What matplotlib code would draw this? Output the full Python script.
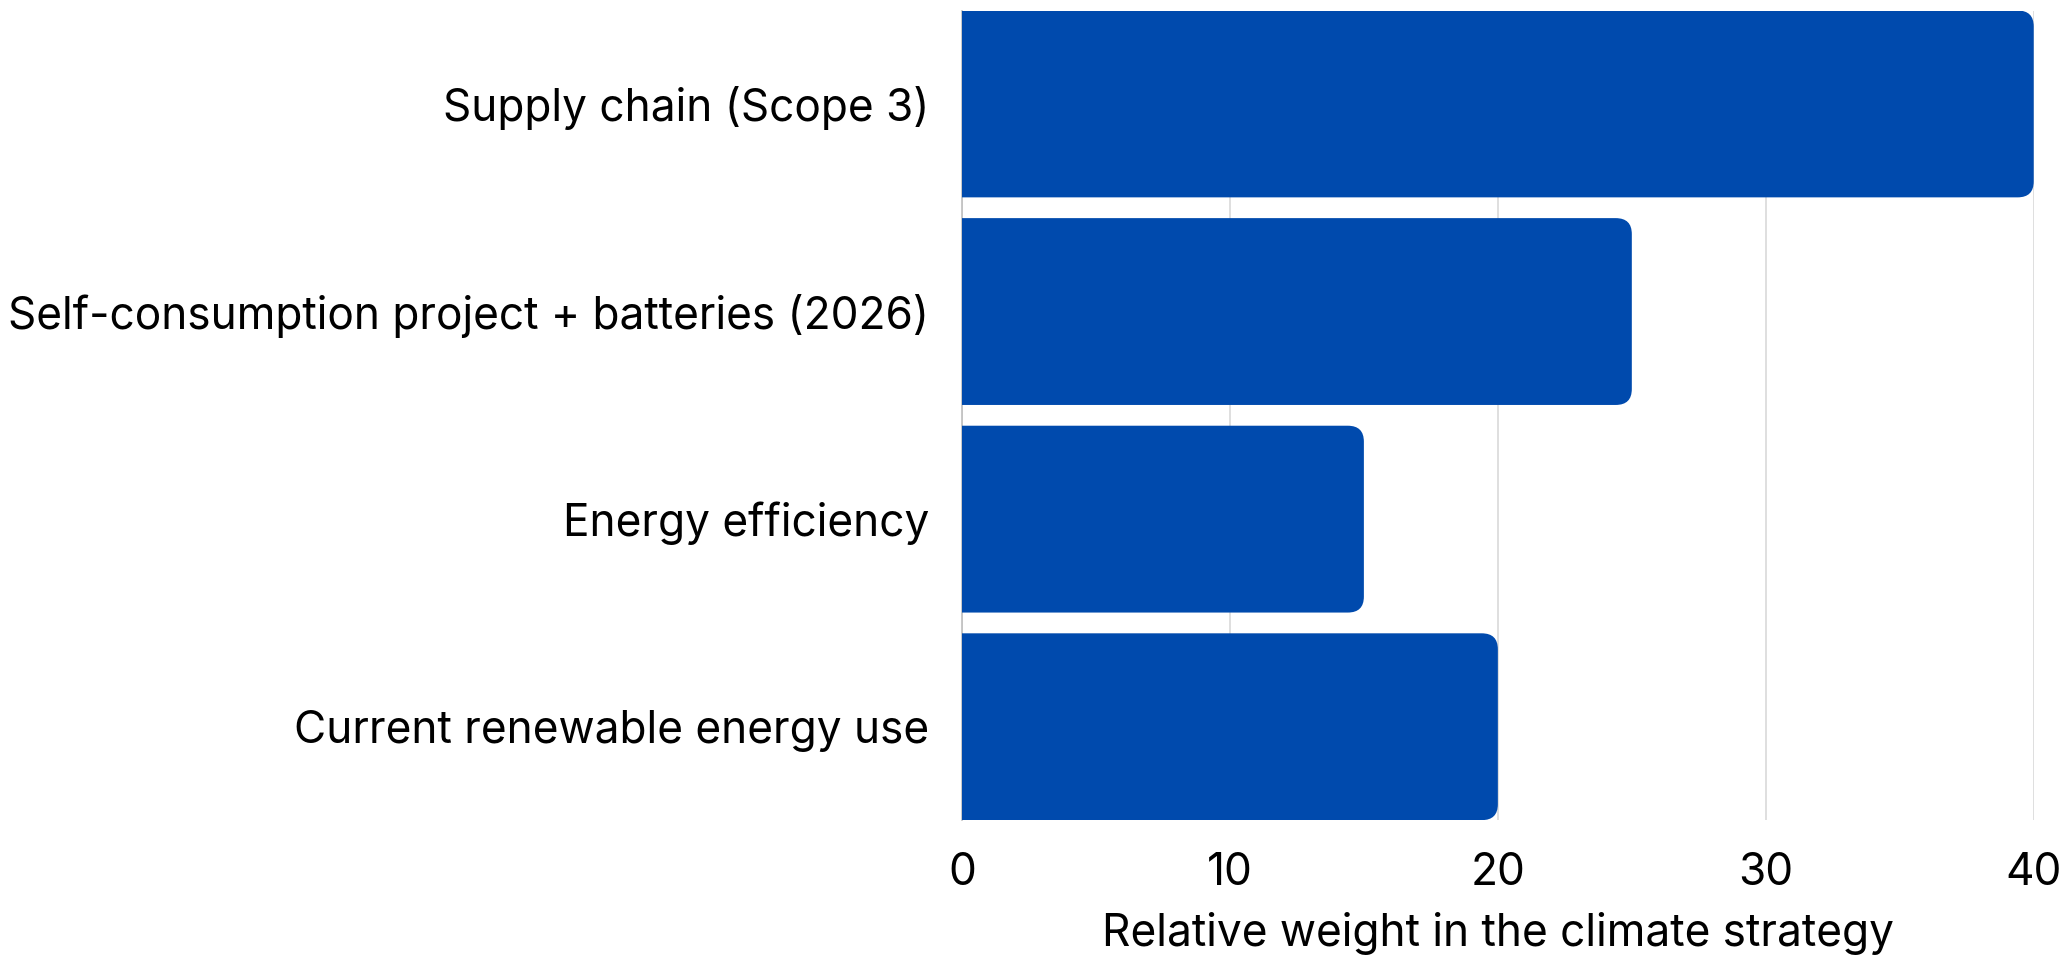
#! /usr/bin/env python3

"""Horizontal bar chart of climate strategy weights."""

import matplotlib
matplotlib.use('Agg')
import matplotlib.pyplot as plt
from matplotlib.patches import FancyBboxPatch

# Data (top to bottom)
categories = ['Supply chain (Scope 3)',
              'Self-consumption project + batteries (2026)',
              'Energy efficiency',
              'Current renewable energy use']
weights = [40, 25, 15, 20]
xticks = [0, 10, 20, 30, 40]

BAR_COLOR = '#004aad'
BAR_HEIGHT = 0.9


def make_plot():
    """Draw bars with rounded right ends."""
    plt.rcParams['font.family'] = ['Inter', 'DejaVu Sans']
    fig = plt.figure(figsize=(20.71, 9.57), dpi=100)
    ax = fig.add_axes([0.4645, 0.143, 0.5175, 0.846])

    ypos = list(range(len(categories)))
    radius = 0.6
    aspect = 0.128

    # Lay out bars with barh, then swap each for a rounded box whose
    # left end sits behind the axis (clipped), so only the right is round
    bars = ax.barh(ypos, weights, height=BAR_HEIGHT,
                   color=BAR_COLOR, zorder=3, linewidth=0)
    for rect in bars:
        x0, y0 = rect.get_x(), rect.get_y()
        w, h = rect.get_width(), rect.get_height()
        patch = FancyBboxPatch(
            (x0 - 3 * radius, y0), w + 3 * radius, h,
            boxstyle='round,pad=0,rounding_size=%g' % radius,
            mutation_aspect=aspect,
            facecolor=BAR_COLOR, edgecolor='none', zorder=3)
        ax.add_patch(patch)
        rect.set_visible(False)

    ax.set_xlim(0, 40)
    ax.set_ylim(len(categories) - 0.5 - (1 - BAR_HEIGHT) / 2,
                -0.5 + (1 - BAR_HEIGHT) / 2)

    ax.set_yticks(ypos)
    ax.set_yticklabels(categories)
    ax.set_xticks(xticks)
    ax.tick_params(axis='both', length=0, labelsize=31.8, colors='black')
    ax.tick_params(axis='y', pad=23.5)
    ax.tick_params(axis='x', pad=23)

    ax.grid(axis='x', color='#d9d9d9', linewidth=1.2, zorder=0)
    ax.set_axisbelow(True)
    for side in ['top', 'right', 'bottom']:
        ax.spines[side].set_visible(False)
    ax.spines['left'].set_color('#bfbfbf')
    ax.spines['left'].set_linewidth(1.2)

    ax.set_xlabel('Relative weight in the climate strategy', fontsize=31.8,
                  labelpad=13)

    fig.savefig('out.png', dpi=100)


if __name__ == "__main__":
    make_plot()
